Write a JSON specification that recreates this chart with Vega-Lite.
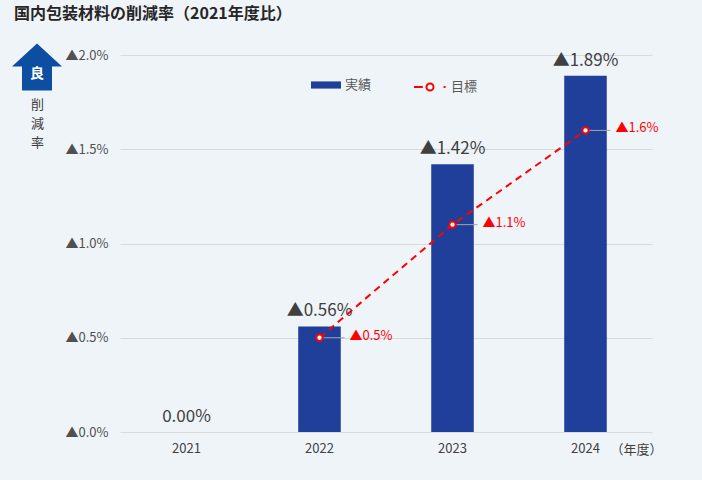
{
  "$schema": "https://vega.github.io/schema/vega-lite/v6.json",
  "width": 532,
  "height": 377,
  "autosize": {"type": "none"},
  "padding": {"left": 120, "top": 55, "right": 50, "bottom": 48},
  "background": "#eff4f9",
  "config": {"font": "Noto Sans CJK JP", "view": {"stroke": null}},
  "title": {"text": "国内包装材料の削減率（2021年度比）", "anchor": "start", "frame": "group", "dx": -106, "fontSize": 16, "fontWeight": "bold", "color": "#262626", "offset": 20},
  "data": {"values": [
    {"year": "2021", "actual": 0, "label": "0.00%", "target": null, "tlabel": null},
    {"year": "2022", "actual": 0.56, "label": "▲0.56%", "target": 0.5, "tlabel": "▲0.5%"},
    {"year": "2023", "actual": 1.42, "label": "▲1.42%", "target": 1.1, "tlabel": "▲1.1%"},
    {"year": "2024", "actual": 1.89, "label": "▲1.89%", "target": 1.6, "tlabel": "▲1.6%"}
  ]},
  "encoding": {
    "x": {"field": "year", "type": "nominal", "scale": {"type": "band", "paddingInner": 0.68, "paddingOuter": 0.34},
      "axis": {"title": "（年度）", "titleX": 490, "titleY": 17, "titleAlign": "left", "titleBaseline": "middle", "titleFontWeight": "normal", "titleFontSize": 13, "titleColor": "#404040", "labelFontSize": 13, "labelColor": "#404040", "labelPadding": 10, "labelAngle": 0, "ticks": false, "domain": false}}
  },
  "layer": [
    {
      "mark": {"type": "bar", "fill": "#203f9a"},
      "encoding": {
        "y": {"field": "actual", "type": "quantitative", "scale": {"domain": [0, 2], "nice": false},
          "axis": {"orient": "left", "title": ["削", "減", "率"], "titleAngle": 0, "titleX": -83, "titleY": 43, "titleAlign": "center", "titleBaseline": "top", "titleLineHeight": 19, "titleFontSize": 13, "titleFontWeight": "normal", "titleColor": "#404040",
            "values": [0, 0.5, 1, 1.5, 2], "labelExpr": "'▲' + format(datum.value, '.1f') + '%'", "labelPadding": 12, "labelFontSize": 13, "labelColor": "#505050", "grid": true, "gridColor": "#d9d9d9", "domain": false, "ticks": false}},
        "color": {"datum": "実績", "scale": {"range": ["#203f9a"]},
          "legend": {"orient": "none", "legendX": 191, "legendY": 15, "title": null, "symbolType": "M-1,-0.24H1V0.24H-1Z", "symbolSize": 900, "symbolStrokeWidth": 0, "labelFontSize": 13, "labelColor": "#595959", "labelOffset": 4, "padding": 0}}
      }
    },
    {
      "mark": {"type": "text", "fontSize": 17, "color": "#404040", "baseline": "alphabetic", "dy": -10},
      "encoding": {
        "y": {"field": "actual", "type": "quantitative", "axis": null},
        "text": {"field": "label"}
      }
    },
    {
      "mark": {"type": "rule", "color": "#a6a6a6", "strokeWidth": 1, "x2Offset": 25},
      "encoding": {
        "x": {"field": "year", "type": "nominal", "bandPosition": 0.5},
        "x2": {"field": "year", "bandPosition": 0.5},
        "y": {"field": "target", "type": "quantitative", "axis": null}
      }
    },
    {
      "mark": {"type": "line", "strokeWidth": 2, "strokeDash": [7, 5]},
      "encoding": {
        "y": {"field": "target", "type": "quantitative", "axis": null},
        "stroke": {"datum": "目標", "scale": {"range": ["#ff0000"]},
          "legend": {"orient": "none", "legendX": 293, "legendY": 15, "title": null, "symbolType": "M-1,0H-0.45M0.85,0H0.97M-0.22,0A0.22,0.22 0 1,1 0.22,0A0.22,0.22 0 1,1 -0.22,0", "symbolSize": 1024, "symbolStrokeWidth": 2, "symbolFillColor": "#ffffff", "symbolStrokeColor": "#ff0000", "labelFontSize": 13, "labelColor": "#595959", "labelOffset": 4, "padding": 0}}
      }
    },
    {
      "mark": {"type": "point", "filled": true, "fill": "#ffffff", "stroke": "#ff0000", "strokeWidth": 2, "size": 40, "opacity": 1},
      "encoding": {
        "y": {"field": "target", "type": "quantitative", "axis": null}
      }
    },
    {
      "mark": {"type": "text", "fontSize": 13, "color": "#ff0000", "align": "left", "baseline": "middle", "dx": 30, "dy": -2},
      "encoding": {
        "y": {"field": "target", "type": "quantitative", "axis": null},
        "text": {"field": "tlabel"}
      }
    },
    {
      "transform": [{"filter": "datum.year == 'none'"}],
      "mark": {"type": "point", "filled": true, "fill": "#0d4ea3", "strokeWidth": 0, "size": 2500, "opacity": 1},
      "encoding": {
        "y": {"field": "target", "type": "quantitative", "axis": null},
        "shape": {"datum": "良", "scale": {"range": ["M0,-0.94L1,-0.02H0.6V0.94H-0.6V-0.02H-1Z"]},
          "legend": {"orient": "none", "legendX": -108, "legendY": -13, "title": null, "padding": 0, "symbolSize": 2500, "symbolFillColor": "#0d4ea3", "symbolStrokeWidth": 0, "symbolOpacity": 1, "labelOffset": -32, "labelFontSize": 14, "labelFontWeight": "bold", "labelColor": "#ffffff", "labelBaseline": "top"}}
      }
    }
  ],
  "resolve": {"axis": {"y": "independent"}}
}
